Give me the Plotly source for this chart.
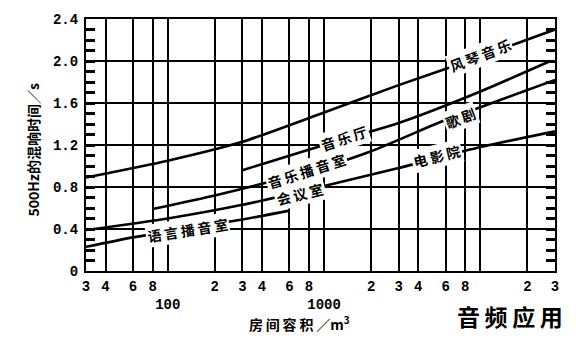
import math
import plotly.graph_objects as go

# ---------------- data ----------------
organ_x = [30, 100, 300, 1000, 3000, 10000, 30000]
organ_y = [0.89, 1.05, 1.23, 1.51, 1.77, 2.04, 2.30]

hall_x = [300, 1000, 3000, 10000, 28000]
hall_y = [0.96, 1.20, 1.41, 1.71, 2.00]

studio_opera_x = [80, 200, 400, 1000, 2000, 6000, 10000, 30000]
studio_opera_y = [0.59, 0.72, 0.83, 0.99, 1.14, 1.44, 1.56, 1.82]

meeting_cinema_x = [30, 100, 300, 1000, 3000, 10000, 30000]
meeting_cinema_y = [0.39, 0.50, 0.63, 0.81, 0.98, 1.18, 1.33]

speech_x = [30, 60, 300, 600]
speech_y = [0.23, 0.32, 0.49, 0.575]

x_tickvals = [30, 40, 60, 80, 100, 200, 300, 400, 600, 800, 1000,
              2000, 3000, 4000, 6000, 8000, 10000, 20000, 30000]
x_ticktext = ["3", "4", "6", "8", " <br>100", "2", "3", "4", "6", "8", " <br>1000",
              "2", "3", "4", "6", "8", "", "2", "3"]
y_gridvals = [0, 0.4, 0.8, 1.2, 1.6, 2.0, 2.4]
y_gridtext = ["0", "0.4", "0.8", "1.2", "1.6", "2.0", "2.4"]
y_tickvals = [round(i * 0.1, 1) for i in range(25)]
y_ticktext = [y_gridtext[y_gridvals.index(v)] if v in y_gridvals else "" for v in y_tickvals]

# label text, anchor (volume, value), angle
labels = [
    ("风琴音乐", 10000, 2.06, -21),
    ("音乐厅", 1350, 1.27, -18),
    ("音乐播音室", 770, 0.955, -18),
    ("歌剧", 7450, 1.457, -21),
    ("电影院", 5300, 1.093, -14),
    ("会议室", 700, 0.735, -14),
    ("语言播音室", 134, 0.395, -9),
]

CJK = "Noto Sans CJK SC"
LW = 2.6

fig = go.Figure()
for xs, ys, name in [
    (organ_x, organ_y, "风琴音乐"),
    (hall_x, hall_y, "音乐厅"),
    (studio_opera_x, studio_opera_y, "音乐播音室 / 歌剧"),
    (meeting_cinema_x, meeting_cinema_y, "会议室 / 电影院"),
    (speech_x, speech_y, "语言播音室"),
]:
    fig.add_trace(go.Scatter(x=xs, y=ys, mode="lines", name=name,
                             line=dict(color="black", width=LW, shape="spline", smoothing=0.6),
                             showlegend=False, hoverinfo="skip"))

# invisible trace so the grid-only overlay axis is drawn
fig.add_trace(go.Scatter(x=organ_x[:1], y=organ_y[:1], yaxis="y2", mode="markers",
                         marker=dict(opacity=0), showlegend=False, hoverinfo="skip"))

ann = []
for text, vx, vy, ang in labels:
    ann.append(dict(x=math.log10(vx), y=vy, xref="x", yref="y",
                    text="\u2009".join(text), textangle=ang, showarrow=False,
                    bgcolor="white", borderpad=1,
                    font=dict(family=CJK, size=14, color="black", weight="bold")))

ann.append(dict(x=0.456, y=-0.21, xref="paper", yref="paper",
                xanchor="center", yanchor="middle",
                text="房\u2009间\u2009容\u2009积\u2009／m<sup>3</sup>", showarrow=False,
                font=dict(family=CJK, size=14, color="black", weight="bold")))
ann.append(dict(x=-0.113, y=0.482, xref="paper", yref="paper",
                xanchor="center", yanchor="middle",
                text="500Hz的混响时间／s", textangle=-90, showarrow=False,
                font=dict(family=CJK, size=14, color="black", weight="bold")))
ann.append(dict(x=0.904, y=-0.179, xref="paper", yref="paper",
                xanchor="center", yanchor="middle",
                text="音\u2009频\u2009应\u2009用", showarrow=False,
                font=dict(family=CJK, size=23, color="black", weight="bold")))

tickfont = dict(family="Liberation Mono", size=14, color="black", weight="bold")

fig.update_layout(
    width=582, height=343,
    margin=dict(l=86, r=27, t=14, b=72),
    paper_bgcolor="white", plot_bgcolor="white",
    annotations=ann,
    xaxis=dict(type="log", range=[math.log10(30), math.log10(30000)],
               tickmode="array", tickvals=x_tickvals, ticktext=x_ticktext, tickangle=0,
               showgrid=True, gridcolor="black", gridwidth=2,
               showline=True, linecolor="black", linewidth=2, mirror=True,
               ticks="", tickfont=tickfont, ticklabelstandoff=1, zeroline=False),
    yaxis=dict(range=[0, 2.4], tickmode="array", tickvals=y_tickvals, ticktext=y_ticktext,
               showgrid=False,
               showline=True, linecolor="black", linewidth=2, mirror="ticks",
               ticks="inside", ticklen=9, tickwidth=2.5, tickcolor="black",
               tickfont=tickfont, ticklabelstandoff=3, zeroline=False),
    yaxis2=dict(range=[0, 2.4], overlaying="y", side="left", tickmode="array",
                tickvals=y_gridvals, showticklabels=False, ticks="",
                showgrid=True, gridcolor="black", gridwidth=2,
                showline=False, zeroline=False),
)

fig.write_html("out.html")
